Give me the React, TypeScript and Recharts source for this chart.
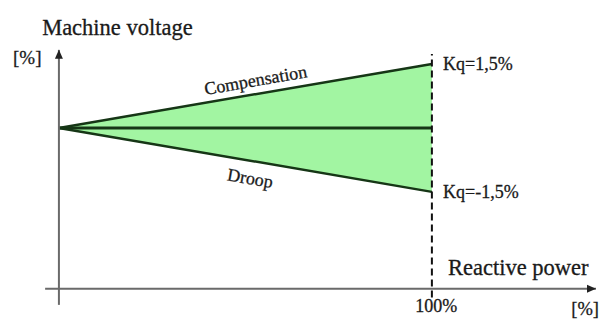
import React from "react";
import {
  ComposedChart, Area, Line, XAxis, YAxis, ReferenceLine, ReferenceDot
} from "recharts";

// reactive power [%] and machine voltage offset [%]
const reactivePower = [0, 100];
const compensation = [0, 1.5];
const droop = [0, -1.5];
const neutral = [0, 0];

const rows = reactivePower.map((q, i) => ({
  q,
  upper: compensation[i],
  lower: droop[i],
  mid: neutral[i],
  band: [droop[i], compensation[i]],
}));

const FONT = "'Times New Roman', 'Liberation Serif', 'DejaVu Serif', serif";
const INK = "#1a1a1a";
const LINE = "#163616";

function arrowLine(dir: "up" | "right") {
  return (p: any) => {
    const { x1, y1, x2, y2 } = p;
    let pts: string;
    if (dir === "up") {
      const x = x1;
      const top = Math.min(y1, y2);
      pts = `${x},${top} ${x - 4},${top + 9} ${x + 4},${top + 9}`;
    } else {
      const y = y1;
      const right = Math.max(x1, x2);
      pts = `${right},${y} ${right - 9},${y - 4} ${right - 9},${y + 4}`;
    }
    return (
      <g>
        <line x1={x1} y1={y1} x2={x2} y2={y2} stroke="#6a6a6a" strokeWidth={2} />
        <polygon points={pts} fill="#222" />
      </g>
    );
  };
}

function note(text: string, opts: { anchor?: "start" | "middle" | "end"; size?: number; rotate?: number } = {}) {
  const { anchor = "start", size = 18, rotate = 0 } = opts;
  return (p: any) => (
    <text
      x={p.cx}
      y={p.cy}
      textAnchor={anchor}
      style={{ fontFamily: FONT, fontSize: size }}
      fill={INK}
      stroke={INK}
      strokeWidth={0.3}
      transform={rotate ? `rotate(${rotate} ${p.cx} ${p.cy})` : undefined}
    >
      {text}
    </text>
  );
}

export default function App() {
  return (
    <div style={{ position: "absolute", left: 0, top: 0, width: 605, height: 320, background: "#fff", fontFamily: FONT }}>
      <ComposedChart
        width={605}
        height={320}
        data={rows}
        margin={{ top: 49, right: 9, left: 44, bottom: 13 }}
      >
        <XAxis type="number" dataKey="q" domain={[-4, 144]} allowDataOverflow hide />
        <YAxis type="number" domain={[-4.2, 1.85]} allowDataOverflow hide />

        <Area
          dataKey="band"
          fill="#a2f5a2"
          fillOpacity={1}
          stroke="none"
          isAnimationActive={false}
        />
        <Line dataKey="upper" stroke={LINE} strokeWidth={2.5} dot={false} isAnimationActive={false} />
        <Line dataKey="mid" stroke={LINE} strokeWidth={3} dot={false} isAnimationActive={false} />
        <Line dataKey="lower" stroke={LINE} strokeWidth={2.5} dot={false} isAnimationActive={false} />

        {/* axes drawn by hand, with arrow heads */}
        <ReferenceLine
          segment={[{ x: 0, y: -4.15 }, { x: 0, y: 1.83 }]}
          ifOverflow="visible"
          shape={arrowLine("up")}
        />
        <ReferenceLine
          segment={[{ x: -3.7, y: -3.77 }, { x: 144, y: -3.77 }]}
          ifOverflow="visible"
          shape={arrowLine("right")}
        />
        <ReferenceLine
          segment={[{ x: 100, y: -3.98 }, { x: 100, y: 1.73 }]}
          ifOverflow="visible"
          stroke="#111"
          strokeWidth={2}
          strokeDasharray="7 4"
        />

        <ReferenceDot x={-4.5} y={2.18} r={0} ifOverflow="visible" shape={note("Machine voltage", { size: 22.5 })} />
        <ReferenceDot x={-12.3} y={1.5} r={0} ifOverflow="visible" shape={note("[%]", { size: 19 })} />
        <ReferenceDot x={103} y={1.36} r={0} ifOverflow="visible" shape={note("Kq=1,5%")} />
        <ReferenceDot x={103} y={-1.64} r={0} ifOverflow="visible" shape={note("Kq=-1,5%")} />
        <ReferenceDot x={104.3} y={-3.45} r={0} ifOverflow="visible" shape={note("Reactive power", { size: 22.5 })} />
        <ReferenceDot x={101.2} y={-4.32} r={0} ifOverflow="visible" shape={note("100%", { anchor: "middle" })} />
        <ReferenceDot x={144.8} y={-4.38} r={0} ifOverflow="visible" shape={note("[%]", { anchor: "end", size: 18.5 })} />
        <ReferenceDot x={53} y={0.98} r={0} ifOverflow="visible" shape={note("Compensation", { anchor: "middle", rotate: -10 })} />
        <ReferenceDot x={51} y={-1.32} r={0} ifOverflow="visible" shape={note("Droop", { anchor: "middle", rotate: 10 })} />
      </ComposedChart>
    </div>
  );
}
